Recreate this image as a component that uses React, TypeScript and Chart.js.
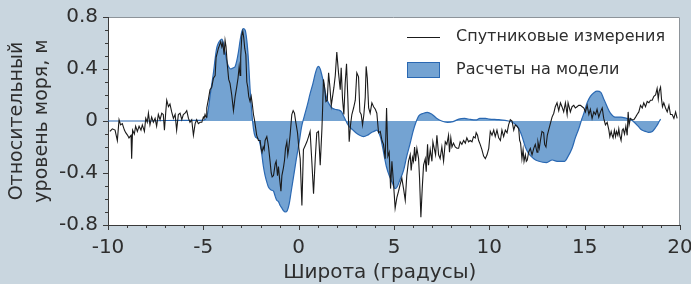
import { useEffect, useRef } from 'react';
import { Chart, registerables } from 'chart.js';

Chart.register(...registerables);

// Satellite measurements (latitude, sea level m)
const satLat = [
  -9.90, -9.77, -9.63, -9.51, -9.42, -9.34, -9.25, -9.14, -9.07, -8.97, -8.90, -8.79, -8.76, -8.71, -8.62, -8.55, -8.46, -8.37, -8.27, -8.20,
  -8.09, -8.02, -7.94, -7.88, -7.80, -7.71, -7.62, -7.53, -7.45, -7.36, -7.27, -7.18, -7.10, -7.04, -6.97, -6.92, -6.83, -6.75, -6.66, -6.57,
  -6.48, -6.40, -6.31, -6.22, -6.13, -6.05, -5.96, -5.87, -5.78, -5.70, -5.61, -5.52, -5.43, -5.35, -5.26, -5.17, -5.08, -5.00, -4.96, -4.91,
  -4.86, -4.82, -4.73, -4.65, -4.56, -4.47, -4.38, -4.33, -4.26, -4.21, -4.16, -4.09, -4.03, -3.98, -3.91, -3.86, -3.81, -3.74, -3.67, -3.60,
  -3.51, -3.42, -3.33, -3.25, -3.18, -3.12, -3.07, -3.04, -2.98, -2.93, -2.88, -2.83, -2.77, -2.72, -2.67, -2.62, -2.55, -2.49, -2.44, -2.37,
  -2.32, -2.27, -2.20, -2.11, -2.02, -1.97, -1.92, -1.86, -1.81, -1.76, -1.67, -1.62, -1.58, -1.50, -1.44, -1.39, -1.32, -1.23, -1.18, -1.11,
  -1.06, -1.01, -0.93, -0.88, -0.80, -0.74, -0.69, -0.62, -0.57, -0.52, -0.45, -0.36, -0.29, -0.22, -0.15, -0.06, 0.01, 0.08, 0.17, 0.25,
  0.34, 0.43, 0.52, 0.60, 0.69, 0.78, 0.87, 0.95, 1.04, 1.13, 1.22, 1.25, 1.30, 1.36, 1.43, 1.50, 1.57, 1.64, 1.71, 1.78,
  1.85, 1.92, 2.00, 2.09, 2.18, 2.23, 2.30, 2.37, 2.44, 2.51, 2.58, 2.65, 2.72, 2.79, 2.88, 2.97, 3.05, 3.14, 3.21, 3.28,
  3.35, 3.42, 3.49, 3.54, 3.60, 3.67, 3.75, 3.84, 3.93, 4.02, 4.10, 4.19, 4.28, 4.37, 4.45, 4.54, 4.61, 4.68, 4.75, 4.82,
  4.89, 4.97, 5.06, 5.15, 5.24, 5.32, 5.41, 5.50, 5.59, 5.67, 5.76, 5.85, 5.90, 5.97, 6.02, 6.08, 6.13, 6.20, 6.29, 6.34,
  6.41, 6.48, 6.55, 6.64, 6.69, 6.76, 6.81, 6.90, 6.99, 7.04, 7.11, 7.18, 7.25, 7.34, 7.42, 7.51, 7.60, 7.69, 7.77, 7.86,
  7.91, 7.98, 8.04, 8.12, 8.21, 8.30, 8.39, 8.47, 8.56, 8.65, 8.74, 8.82, 8.91, 9.00, 9.09, 9.17, 9.26, 9.31, 9.38, 9.44,
  9.52, 9.61, 9.70, 9.79, 9.88, 9.97, 10.05, 10.14, 10.23, 10.31, 10.40, 10.49, 10.58, 10.66, 10.75, 10.84, 10.93, 11.01, 11.10, 11.19,
  11.28, 11.36, 11.45, 11.54, 11.59, 11.64, 11.71, 11.77, 11.82, 11.89, 11.94, 11.99, 12.06, 12.15, 12.24, 12.33, 12.41, 12.50, 12.55, 12.62,
  12.68, 12.76, 12.85, 12.90, 12.97, 13.04, 13.11, 13.20, 13.29, 13.38, 13.46, 13.55, 13.64, 13.73, 13.81, 13.90, 13.99, 14.08, 14.13, 14.20,
  14.25, 14.34, 14.43, 14.51, 14.60, 14.69, 14.78, 14.87, 14.96, 15.04, 15.13, 15.22, 15.30, 15.39, 15.48, 15.57, 15.65, 15.74, 15.83, 15.92,
  16.00, 16.09, 16.18, 16.27, 16.32, 16.39, 16.44, 16.49, 16.56, 16.62, 16.67, 16.74, 16.79, 16.84, 16.91, 16.97, 17.02, 17.09, 17.16, 17.23,
  17.28, 17.33, 17.40, 17.49, 17.58, 17.67, 17.75, 17.84, 17.93, 18.02, 18.10, 18.19, 18.28, 18.37, 18.45, 18.54, 18.63, 18.72, 18.80, 18.86,
  18.91, 18.98, 19.03, 19.08, 19.15, 19.24, 19.33, 19.42, 19.50, 19.59, 19.68, 19.77, 19.85,
];
const satLevel = [
  -0.08, -0.06, -0.07, -0.15, 0.01, -0.03, -0.02, -0.07, -0.09, -0.11, -0.13, -0.11, -0.29, -0.07, -0.10, -0.04, -0.08, -0.04, -0.07, -0.03,
  -0.08, 0.02, -0.01, 0.06, -0.03, 0.03, -0.01, 0.02, -0.04, 0.05, 0.01, 0.06, 0.05, -0.07, 0.07, 0.16, 0.11, 0.13, 0.07, 0.02,
  0.05, -0.07, 0.05, 0.06, 0.01, 0.05, 0.06, 0.08, 0.02, -0.01, 0.01, -0.11, -0.02, 0.01, -0.02, -0.01, -0.01, 0.03, 0.02, 0.05,
  0.03, 0.10, 0.17, 0.24, 0.26, 0.33, 0.35, 0.49, 0.53, 0.56, 0.58, 0.61, 0.57, 0.60, 0.51, 0.62, 0.57, 0.43, 0.32, 0.29,
  0.20, 0.08, 0.19, 0.26, 0.33, 0.42, 0.35, 0.49, 0.66, 0.69, 0.64, 0.56, 0.51, 0.30, 0.26, 0.19, 0.15, 0.19, 0.14, 0.05,
  0.01, -0.04, -0.11, -0.15, -0.15, -0.21, -0.24, -0.20, -0.22, -0.15, -0.12, -0.16, -0.20, -0.31, -0.40, -0.43, -0.42, -0.33, -0.31, -0.42,
  -0.35, -0.43, -0.54, -0.42, -0.36, -0.30, -0.21, -0.16, -0.26, -0.21, -0.11, 0.05, 0.08, 0.06, -0.01, -0.09, -0.21, -0.29, -0.65, -0.22,
  -0.19, -0.16, -0.12, -0.08, -0.31, -0.56, -0.29, -0.09, -0.08, -0.34, -0.06, 0.07, 0.32, 0.26, 0.15, 0.16, 0.37, 0.26, 0.12, 0.19,
  0.26, 0.35, 0.53, 0.37, 0.24, 0.41, 0.17, 0.05, 0.29, 0.44, 0.17, -0.16, -0.03, 0.05, 0.10, 0.16, 0.37, 0.34, 0.07, 0.05,
  -0.03, 0.05, 0.18, 0.42, 0.33, 0.10, 0.06, 0.14, 0.11, 0.09, 0.06, -0.09, -0.08, -0.15, -0.18, -0.29, 0.10, -0.27, -0.24, -0.52,
  -0.31, -0.47, -0.67, -0.59, -0.54, -0.49, -0.44, -0.52, -0.61, -0.42, -0.31, -0.26, -0.38, -0.28, -0.31, -0.20, -0.31, -0.21, -0.29, -0.44,
  -0.74, -0.52, -0.34, -0.29, -0.39, -0.18, -0.34, -0.22, -0.31, -0.16, -0.21, -0.26, -0.11, -0.26, -0.29, -0.20, -0.31, -0.16, -0.18, -0.11,
  -0.24, -0.13, -0.20, -0.17, -0.20, -0.21, -0.21, -0.16, -0.18, -0.15, -0.17, -0.13, -0.16, -0.15, -0.16, -0.12, -0.13, -0.09, -0.11, -0.15,
  -0.18, -0.22, -0.27, -0.29, -0.26, -0.21, -0.08, -0.11, -0.07, -0.12, -0.07, -0.13, -0.15, -0.07, -0.12, -0.07, -0.09, -0.03, 0.01, 0.00,
  -0.07, -0.03, -0.04, -0.06, -0.15, -0.17, -0.29, -0.22, -0.31, -0.26, -0.31, -0.30, -0.24, -0.21, -0.26, -0.21, -0.18, -0.24, -0.16, -0.21,
  -0.15, -0.08, -0.09, -0.18, -0.20, -0.11, -0.07, -0.02, 0.03, 0.06, 0.11, 0.14, 0.08, 0.14, 0.11, 0.07, 0.14, 0.05, 0.14, 0.10,
  0.07, 0.11, 0.12, 0.10, 0.11, 0.12, 0.12, 0.11, 0.10, 0.07, 0.12, 0.05, 0.09, 0.02, 0.07, 0.05, 0.09, 0.03, 0.07, 0.10,
  0.02, -0.03, -0.01, -0.07, -0.12, -0.08, -0.11, -0.13, -0.07, -0.12, -0.08, -0.11, -0.06, -0.11, -0.15, -0.07, -0.06, -0.10, -0.04, -0.11,
  0.07, -0.03, 0.02, 0.01, 0.01, 0.03, 0.05, 0.07, 0.12, 0.10, 0.14, 0.11, 0.15, 0.14, 0.16, 0.16, 0.19, 0.20, 0.25, 0.17,
  0.23, 0.26, 0.17, 0.11, 0.14, 0.10, 0.07, 0.12, 0.05, 0.05, 0.02, 0.07, 0.02,
];

// Model calculations (latitude, sea level m)
const modelLat = [
  -10, -9, -8, -7, -6, -5.5, -5.17, -5.0, -4.82, -4.73, -4.65, -4.56, -4.47, -4.38, -4.30, -4.21, -4.12, -4.03, -3.95, -3.86,
  -3.77, -3.68, -3.55, -3.42, -3.33, -3.25, -3.16, -3.07, -2.98, -2.90, -2.81, -2.72, -2.63, -2.55, -2.46, -2.37, -2.28, -2.20, -2.10, -2.02,
  -1.93, -1.85, -1.76, -1.67, -1.58, -1.45, -1.32, -1.23, -1.15, -1.06, -0.97, -0.88, -0.80, -0.70, -0.60, -0.50, -0.40, -0.27, -0.12, 0.02,
  0.16, 0.30, 0.45, 0.60, 0.75, 0.88, 0.97, 1.04, 1.13, 1.22, 1.30, 1.40, 1.50, 1.60, 1.75, 1.90, 2.10, 2.25, 2.35, 2.45,
  2.55, 2.70, 2.85, 3.0, 3.2, 3.4, 3.6, 3.8, 3.95, 4.1, 4.2, 4.3, 4.4, 4.5, 4.6, 4.75, 4.9, 5.06, 5.15, 5.32,
  5.50, 5.67, 5.85, 6.0, 6.15, 6.30, 6.55, 6.75, 7.0, 7.25, 7.5, 7.8, 8.1, 8.4, 8.7, 9.0, 9.3, 9.5, 9.8, 10.0,
  10.5, 11.0, 11.2, 11.4, 11.55, 11.72, 11.89, 12.06, 12.33, 12.6, 13.0, 13.3, 13.55, 13.95, 14.1, 14.34, 14.51, 14.69, 14.85, 14.96,
  15.13, 15.30, 15.5, 15.65, 15.85, 16.0, 16.18, 16.35, 16.6, 16.9, 17.2, 17.45, 17.6, 17.8, 18.0, 18.2, 18.35, 18.55, 18.72, 18.85,
  18.98,
];
const modelLevel = [
  0, 0, 0, 0.004, 0.005, 0.005, 0.005, 0.006, 0.03, 0.10, 0.19, 0.28, 0.37, 0.48, 0.56, 0.60, 0.62, 0.63, 0.60, 0.53,
  0.46, 0.42, 0.40, 0.41, 0.42, 0.46, 0.53, 0.62, 0.69, 0.71, 0.70, 0.62, 0.46, 0.25, 0.07, -0.06, -0.12, -0.13, -0.14, -0.18,
  -0.26, -0.35, -0.42, -0.47, -0.51, -0.53, -0.54, -0.58, -0.61, -0.62, -0.65, -0.67, -0.69, -0.70, -0.69, -0.64, -0.55, -0.43, -0.29, -0.17,
  -0.04, 0.04, 0.12, 0.21, 0.29, 0.37, 0.41, 0.42, 0.40, 0.35, 0.30, 0.22, 0.16, 0.13, 0.10, 0.09, 0.085, 0.07, 0.04, 0.01,
  -0.02, -0.05, -0.07, -0.09, -0.11, -0.12, -0.11, -0.09, -0.08, -0.07, -0.09, -0.13, -0.20, -0.28, -0.35, -0.42, -0.47, -0.52, -0.51, -0.45,
  -0.38, -0.27, -0.17, -0.08, -0.01, 0.04, 0.06, 0.067, 0.05, 0.02, 0.0, -0.01, -0.005, 0.015, 0.02, 0.012, 0.008, 0.02, 0.02, 0.015,
  0.01, 0.0, -0.01, -0.03, -0.06, -0.12, -0.20, -0.25, -0.29, -0.31, -0.32, -0.30, -0.31, -0.31, -0.28, -0.21, -0.13, -0.06, 0.015, 0.06,
  0.14, 0.19, 0.22, 0.23, 0.22, 0.17, 0.11, 0.06, 0.03, 0.03, 0.02, 0.01, -0.01, -0.04, -0.07, -0.08, -0.087, -0.08, -0.05, -0.02,
  0.015,
];

const xMajorTicks = [-10, -5, 0, 5, 10, 15, 20];
const yMajorTicks = [-0.8, -0.4, 0, 0.4, 0.8];
const seriesNames = ['Спутниковые измерения', 'Расчеты на модели'];
const xTitle = 'Широта (градусы)';
const yTitle = ['Относительный', 'уровень моря, м'];

const isMajor = (v: number, list: number[]) => list.some((m) => Math.abs(m - v) < 1e-6);
const FONT = '"DejaVu Sans", Verdana, sans-serif';
const TEXT = '#2e2e2e';
const FILL = '#74a3d2';
const EDGE = '#2a68b2';
const LINE = '#1a1a1a';

const bgPlugin = {
  id: 'plotBg',
  beforeDraw(chart: any) {
    const { ctx, chartArea: a } = chart;
    ctx.save();
    ctx.fillStyle = '#ffffff';
    ctx.fillRect(a.left, a.top, a.right - a.left, a.bottom - a.top);
    ctx.strokeStyle = '#8d949a';
    ctx.lineWidth = 1;
    ctx.beginPath();
    ctx.moveTo(a.left, a.top + 0.5);
    ctx.lineTo(a.right - 0.5, a.top + 0.5);
    ctx.lineTo(a.right - 0.5, a.bottom);
    ctx.stroke();
    ctx.restore();
  },
};

const tickPlugin = {
  id: 'minorTicks',
  afterDraw(chart: any) {
    const { ctx, chartArea: a } = chart;
    const xs = chart.scales.x;
    const ys = chart.scales.y;
    ctx.save();
    ctx.strokeStyle = '#3a3a3a';
    ctx.lineWidth = 1;
    ctx.beginPath();
    xs.ticks.forEach((t: any) => {
      const px = Math.round(xs.getPixelForValue(t.value)) + 0.5;
      const len = isMajor(t.value, xMajorTicks) ? 5 : 3;
      ctx.moveTo(px, a.bottom);
      ctx.lineTo(px, a.bottom + len);
    });
    ys.ticks.forEach((t: any) => {
      const py = Math.round(ys.getPixelForValue(t.value)) + 0.5;
      const len = isMajor(t.value, yMajorTicks) ? 5 : 3;
      ctx.moveTo(a.left, py);
      ctx.lineTo(a.left - len, py);
    });
    ctx.stroke();
    // x-axis title
    ctx.fillStyle = TEXT;
    ctx.font = `20px ${FONT}`;
    ctx.textAlign = 'center';
    ctx.textBaseline = 'middle';
    ctx.fillText(xTitle, a.left + (a.right - a.left) * 0.475, a.bottom + 48);
    ctx.restore();
  },
};

const legendPlugin = {
  id: 'innerLegend',
  afterDraw(chart: any) {
    const { ctx, chartArea: a } = chart;
    const x0 = a.left + 299;
    const y0 = a.top + 20;
    ctx.save();
    ctx.strokeStyle = LINE;
    ctx.lineWidth = 1;
    ctx.beginPath();
    ctx.moveTo(x0, y0 + 0.5);
    ctx.lineTo(x0 + 33, y0 + 0.5);
    ctx.stroke();
    ctx.fillStyle = FILL;
    ctx.fillRect(x0, y0 + 25, 33, 16);
    ctx.strokeStyle = EDGE;
    ctx.strokeRect(x0 + 0.5, y0 + 25.5, 32, 15);
    ctx.fillStyle = TEXT;
    ctx.font = `16px ${FONT}`;
    ctx.textBaseline = 'middle';
    ctx.textAlign = 'left';
    ctx.fillText(seriesNames[0], x0 + 49, y0);
    ctx.fillText(seriesNames[1], x0 + 49, y0 + 33);
    ctx.restore();
  },
};

export default function App() {
  const ref = useRef<HTMLCanvasElement | null>(null);

  useEffect(() => {
    if (!ref.current) return;
    const satData = satLat.map((x, i) => ({ x, y: satLevel[i] }));
    const modelData = modelLat.map((x, i) => ({ x, y: modelLevel[i] }));
    const chart = new Chart(ref.current, {
      type: 'line',
      data: {
        datasets: [
          {
            label: seriesNames[0],
            data: satData,
            borderColor: LINE,
            borderWidth: 1.1,
            pointRadius: 0,
            tension: 0,
            fill: false,
            order: 0,
          },
          {
            label: seriesNames[1],
            data: modelData,
            borderColor: EDGE,
            backgroundColor: FILL,
            borderWidth: 1.2,
            pointRadius: 0,
            cubicInterpolationMode: 'monotone',
            fill: 'origin',
            order: 1,
          },
        ],
      },
      options: {
        animation: false,
        responsive: true,
        maintainAspectRatio: false,
        layout: { padding: { left: 0, top: 17, right: 11, bottom: 0 } },
        plugins: { legend: { display: false }, tooltip: { enabled: false } },
        scales: {
          x: {
            type: 'linear',
            min: -10,
            max: 20,
            grid: { display: false, drawTicks: true, tickLength: 5 },
            border: { display: true, color: '#3a3a3a', width: 1 },
            ticks: {
              stepSize: 1,
              autoSkip: false,
              maxRotation: 0,
              padding: 6,
              color: TEXT,
              font: { family: FONT, size: 20 },
              callback: (v: any) => (isMajor(Number(v), xMajorTicks) ? String(v) : ''),
            },
            title: { display: false },
            afterFit: (s: any) => {
              s.height = 59;
              s.paddingLeft = 0;
              s.paddingRight = 0;
            },
          },
          y: {
            type: 'linear',
            min: -0.8,
            max: 0.8,
            grid: { display: false, drawTicks: true, tickLength: 5 },
            border: { display: true, color: '#3a3a3a', width: 1 },
            ticks: {
              stepSize: 0.1,
              autoSkip: false,
              padding: 5,
              color: TEXT,
              font: { family: FONT, size: 20 },
              callback: (v: any) => {
                const n = Number(v);
                if (!isMajor(n, yMajorTicks)) return '';
                const r = Math.round(n * 10) / 10;
                return r === 0 ? '0' : String(r);
              },
            },
            title: {
              display: true,
              text: yTitle,
              color: TEXT,
              font: { family: FONT, size: 19, lineHeight: 1.29 },
              padding: { top: 5, bottom: 0 },
            },
            afterFit: (s: any) => {
              s.width = 108;
              s.paddingTop = 0;
              s.paddingBottom = 0;
            },
          },
        },
      },
      plugins: [bgPlugin, tickPlugin, legendPlugin],
    });
    return () => chart.destroy();
  }, []);

  return (
    <div
      style={{
        position: 'fixed',
        left: 0,
        top: 0,
        width: 691,
        height: 284,
        background: '#c9d6df',
      }}
    >
      <canvas ref={ref} />
    </div>
  );
}
